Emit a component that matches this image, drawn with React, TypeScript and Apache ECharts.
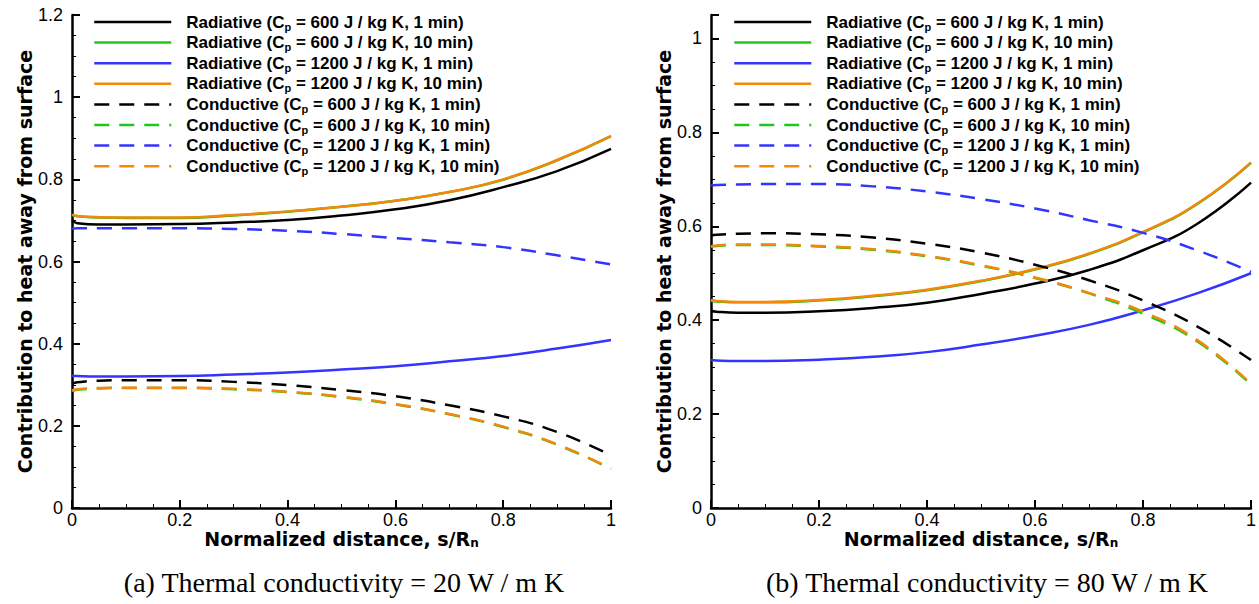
import React, { useEffect, useRef } from "react";
import * as echarts from "echarts";

// Normalized distance sample points
const S = [0, 0.01, 0.05, 0.1, 0.2, 0.3, 0.4, 0.5, 0.6, 0.7, 0.8, 0.9, 1.0];

const NAMES = [
  "Radiative (Cp = 600 J / kg K, 1 min)",
  "Radiative (Cp = 600 J / kg K, 10 min)",
  "Radiative (Cp = 1200 J / kg K, 1 min)",
  "Radiative (Cp = 1200 J / kg K, 10 min)",
  "Conductive (Cp = 600 J / kg K, 1 min)",
  "Conductive (Cp = 600 J / kg K, 10 min)",
  "Conductive (Cp = 1200 J / kg K, 1 min)",
  "Conductive (Cp = 1200 J / kg K, 10 min)",
];
const COLORS = ["#000000", "#1ec81e", "#3434ff", "#f5870a", "#000000", "#1ec81e", "#3434ff", "#f5870a"];

// (a) k = 20 W / m K
const A_RAD_600_1 = [0.700, 0.693, 0.690, 0.690, 0.691, 0.695, 0.701, 0.712, 0.727, 0.749, 0.781, 0.820, 0.874];
const A_RAD_600_10 = [0.713, 0.710, 0.707, 0.706, 0.706, 0.712, 0.721, 0.733, 0.748, 0.769, 0.799, 0.846, 0.905];
const A_RAD_1200_1 = [0.322, 0.321, 0.320, 0.320, 0.321, 0.325, 0.330, 0.337, 0.345, 0.357, 0.370, 0.388, 0.409];
const A_RAD_1200_10 = [0.714, 0.711, 0.708, 0.707, 0.707, 0.713, 0.722, 0.733, 0.748, 0.769, 0.800, 0.847, 0.905];
const A_CON_600_1 = [0.302, 0.306, 0.310, 0.311, 0.311, 0.307, 0.299, 0.287, 0.272, 0.250, 0.223, 0.185, 0.128];
const A_CON_600_10 = [0.285, 0.288, 0.291, 0.292, 0.292, 0.289, 0.282, 0.270, 0.252, 0.228, 0.197, 0.154, 0.095];
const A_CON_1200_1 = [0.680, 0.681, 0.681, 0.681, 0.681, 0.679, 0.675, 0.667, 0.657, 0.647, 0.635, 0.615, 0.593];
const A_CON_1200_10 = [0.286, 0.289, 0.292, 0.293, 0.293, 0.290, 0.283, 0.271, 0.253, 0.229, 0.198, 0.155, 0.096];

// (b) k = 80 W / m K
const B_RAD_600_1 = [0.420, 0.418, 0.416, 0.416, 0.419, 0.426, 0.437, 0.456, 0.478, 0.507, 0.549, 0.605, 0.693];
const B_RAD_600_10 = [0.442, 0.440, 0.438, 0.438, 0.442, 0.451, 0.464, 0.483, 0.508, 0.541, 0.587, 0.647, 0.735];
const B_RAD_1200_1 = [0.315, 0.314, 0.313, 0.313, 0.316, 0.322, 0.332, 0.348, 0.367, 0.390, 0.421, 0.457, 0.500];
const B_RAD_1200_10 = [0.443, 0.441, 0.439, 0.439, 0.443, 0.452, 0.465, 0.484, 0.509, 0.542, 0.588, 0.648, 0.736];
const B_CON_600_1 = [0.580, 0.582, 0.584, 0.585, 0.583, 0.576, 0.563, 0.544, 0.518, 0.485, 0.442, 0.387, 0.315];
const B_CON_600_10 = [0.556, 0.558, 0.560, 0.560, 0.557, 0.550, 0.536, 0.516, 0.490, 0.457, 0.414, 0.355, 0.263];
const B_CON_1200_1 = [0.687, 0.688, 0.689, 0.690, 0.690, 0.685, 0.674, 0.658, 0.638, 0.613, 0.586, 0.549, 0.503];
const B_CON_1200_10 = [0.557, 0.559, 0.561, 0.561, 0.558, 0.551, 0.537, 0.517, 0.491, 0.458, 0.418, 0.358, 0.264];

const X_TICKS = { min: 0, max: 1, interval: 0.2 };
const Y_A = { min: 0, max: 1.2, interval: 0.2 };
const Y_B = { min: 0, max: 1.05, interval: 0.2 };

const CAPTION_A = "(a) Thermal conductivity = 20 W / m K";
const CAPTION_B = "(b) Thermal conductivity = 80 W / m K";
const X_NAME = "Normalized distance, s/R{sub|n}";
const Y_NAME = "Contribution to heat away from surface";

const SANS = "Liberation Sans, Arial, Helvetica, sans-serif";
const WIDE = "DejaVu Sans, Verdana, sans-serif";
const SERIF = "Liberation Serif, Times New Roman, serif";

export default function App() {
  const ref = useRef<HTMLDivElement>(null);
  useEffect(() => {
    if (!ref.current) return;
    const chart = echarts.init(ref.current, null, { renderer: "svg" });

    const sets = [
      [A_RAD_600_1, A_RAD_600_10, A_RAD_1200_1, A_RAD_1200_10, A_CON_600_1, A_CON_600_10, A_CON_1200_1, A_CON_1200_10],
      [B_RAD_600_1, B_RAD_600_10, B_RAD_1200_1, B_RAD_1200_10, B_CON_600_1, B_CON_600_10, B_CON_1200_1, B_CON_1200_10],
    ];

    const series: any[] = [];
    sets.forEach((set, gi) => {
      set.forEach((vals, i) => {
        series.push({
          type: "line",
          name: NAMES[i],
          xAxisIndex: gi,
          yAxisIndex: gi,
          data: S.map((s, k) => [s, vals[k]]),
          symbol: "none",
          showSymbol: false,
          smooth: 0.5,
          lineStyle: {
            color: COLORS[i],
            width: 2.5,
            type: i >= 4 ? [15, 10] : "solid",
          },
          itemStyle: { color: COLORS[i] },
          emphasis: { disabled: true },
          z: 2,
        });
      });
    });

    const subRich = {
      sub: {
        fontSize: 11,
        fontWeight: "bold",
        fontFamily: SANS,
        verticalAlign: "bottom",
        lineHeight: 10,
        color: "#000",
      },
    };

    const legendBase = (left: number) => ({
      orient: "vertical",
      left,
      top: 12,
      padding: 0,
      itemWidth: 77,
      itemHeight: 14,
      itemGap: 0.6,
      selectedMode: false,
      data: NAMES,
      itemStyle: { opacity: 0, color: "transparent", borderWidth: 0 },
      lineStyle: { width: 2.5 },
      formatter: (name: string) => name.replace("Cp", "C{sub|p}"),
      textStyle: {
        fontSize: 17,
        fontWeight: "bold",
        fontFamily: SANS,
        color: "#000",
        lineHeight: 20,
        padding: [0, 0, 0, 10],
        rich: subRich,
      },
    });

    const xAxis = (gi: number) => ({
      type: "value",
      gridIndex: gi,
      ...X_TICKS,
      name: X_NAME,
      nameLocation: "middle",
      nameGap: 21,
      nameMoveOverlap: false,
      nameTextStyle: {
        fontSize: 19,
        fontWeight: "bold",
        fontFamily: WIDE,
        color: "#000",
        lineHeight: 20,
        rich: { sub: { ...subRich.sub, fontFamily: WIDE, fontSize: 12, lineHeight: 10 } },
      },
      axisLine: { show: true, onZero: false, lineStyle: { color: "#000", width: 2.5 } },
      axisTick: { show: true, inside: true, length: 8, lineStyle: { color: "#000", width: 2 } },
      minorTick: { show: true, splitNumber: 4, length: 4, lineStyle: { color: "#000", width: 1 } },
      splitLine: { show: false },
      axisLabel: {
        fontSize: 18,
        lineHeight: 16,
        fontFamily: SANS,
        color: "#000",
        margin: 4,
        formatter: (v: number) => String(+v.toFixed(2)),
      },
    });

    const yAxis = (gi: number, ticks: any) => ({
      type: "value",
      gridIndex: gi,
      ...ticks,
      name: Y_NAME,
      nameLocation: "middle",
      nameRotate: 90,
      nameGap: 31,
      nameTextStyle: {
        fontSize: 19,
        fontWeight: "bold",
        fontFamily: WIDE,
        color: "#000",
      },
      axisLine: { show: true, onZero: false, lineStyle: { color: "#000", width: 2.5 } },
      axisTick: { show: true, inside: true, length: 8, lineStyle: { color: "#000", width: 2 } },
      minorTick: { show: true, splitNumber: 4, length: 4, lineStyle: { color: "#000", width: 1 } },
      splitLine: { show: false },
      axisLabel: {
        fontSize: 18,
        fontFamily: SANS,
        color: "#000",
        margin: 9,
        showMaxLabel: gi === 0,
        formatter: (v: number) => String(+v.toFixed(2)),
      },
    });

    const caption = (x: number, text: string) => ({
      type: "text",
      x,
      y: 582,
      style: {
        text,
        fontSize: 28,
        fontFamily: SERIF,
        fill: "#000",
        align: "center",
        verticalAlign: "middle",
      },
    });

    chart.setOption({
      animation: false,
      backgroundColor: "#ffffff",
      grid: [
        { left: 72, top: 15, width: 539, height: 493 },
        { left: 711, top: 15, width: 540, height: 493 },
      ],
      xAxis: [xAxis(0), xAxis(1)],
      yAxis: [yAxis(0, Y_A), yAxis(1, Y_B)],
      legend: [legendBase(93), legendBase(733)],
      series,
      graphic: [caption(344, CAPTION_A), caption(987, CAPTION_B)],
    });

    return () => chart.dispose();
  }, []);

  return (
    <div
      ref={ref}
      style={{ position: "fixed", left: 0, top: 0, width: 1259, height: 604, background: "#fff" }}
    />
  );
}
